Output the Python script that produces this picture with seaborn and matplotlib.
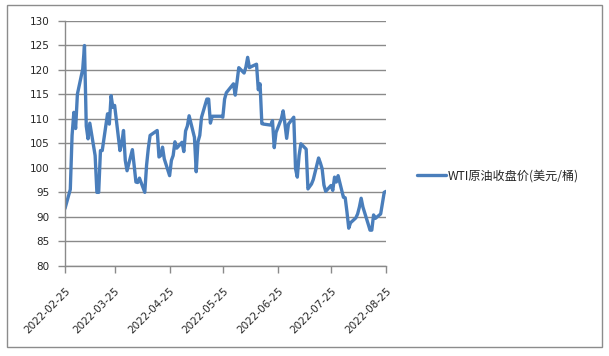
import matplotlib
matplotlib.use("Agg")
import matplotlib.pyplot as plt
import matplotlib.dates as mdates
from matplotlib.patches import Rectangle
import seaborn as sns
import pandas as pd

dates = [
    "2022-02-25", "2022-02-28", "2022-03-01", "2022-03-02", "2022-03-03", "2022-03-04",
    "2022-03-07", "2022-03-08", "2022-03-09", "2022-03-10", "2022-03-11",
    "2022-03-14", "2022-03-15", "2022-03-16", "2022-03-17", "2022-03-18",
    "2022-03-21", "2022-03-22", "2022-03-23", "2022-03-24", "2022-03-25",
    "2022-03-28", "2022-03-29", "2022-03-30", "2022-03-31", "2022-04-01",
    "2022-04-04", "2022-04-05", "2022-04-06", "2022-04-07", "2022-04-08",
    "2022-04-11", "2022-04-12", "2022-04-13", "2022-04-14",
    "2022-04-18", "2022-04-19", "2022-04-20", "2022-04-21", "2022-04-22",
    "2022-04-25", "2022-04-26", "2022-04-27", "2022-04-28", "2022-04-29",
    "2022-05-02", "2022-05-03", "2022-05-04", "2022-05-05", "2022-05-06",
    "2022-05-09", "2022-05-10", "2022-05-11", "2022-05-12", "2022-05-13",
    "2022-05-16", "2022-05-17", "2022-05-18", "2022-05-19", "2022-05-20",
    "2022-05-23", "2022-05-24", "2022-05-25", "2022-05-26", "2022-05-27",
    "2022-05-31", "2022-06-01", "2022-06-02", "2022-06-03",
    "2022-06-06", "2022-06-07", "2022-06-08", "2022-06-09", "2022-06-10",
    "2022-06-13", "2022-06-14", "2022-06-15", "2022-06-16", "2022-06-17",
    "2022-06-21", "2022-06-22", "2022-06-23", "2022-06-24",
    "2022-06-27", "2022-06-28", "2022-06-29", "2022-06-30", "2022-07-01",
    "2022-07-04", "2022-07-05", "2022-07-06", "2022-07-07", "2022-07-08",
    "2022-07-11", "2022-07-12", "2022-07-13", "2022-07-14", "2022-07-15",
    "2022-07-18", "2022-07-19", "2022-07-20", "2022-07-21", "2022-07-22",
    "2022-07-25", "2022-07-26", "2022-07-27", "2022-07-28", "2022-07-29",
    "2022-08-01", "2022-08-02", "2022-08-03", "2022-08-04", "2022-08-05",
    "2022-08-08", "2022-08-09", "2022-08-10", "2022-08-11", "2022-08-12",
    "2022-08-15", "2022-08-16", "2022-08-17", "2022-08-18", "2022-08-19",
    "2022-08-22", "2022-08-23", "2022-08-24", "2022-08-25",
]
wti_close = [
    91.7, 95.6, 106.6, 111.3, 108.0, 115.0,
    120.1, 124.9, 108.5, 105.9, 109.1,
    102.5, 95.0, 95.0, 103.5, 103.5,
    111.0, 108.9, 114.7, 112.3, 112.7,
    103.5, 105.0, 107.6, 101.5, 99.4,
    103.7, 100.5, 97.1, 97.0, 97.9,
    95.0, 100.5, 104.0, 106.6,
    107.6, 102.2, 102.5, 104.2, 101.8,
    98.4, 101.5, 102.5, 105.3, 104.0,
    105.2, 103.3, 107.5, 108.5, 110.6,
    106.2, 99.2, 105.3, 106.6, 110.3,
    114.0, 114.0, 109.1, 110.5, 110.5,
    110.5, 110.5, 110.3, 114.0, 115.3,
    117.1, 114.8, 117.5, 120.4,
    119.3, 120.5, 122.5, 120.4, 120.6,
    121.1, 115.9, 117.1, 109.0, 108.9,
    108.7, 109.6, 104.1, 107.2,
    110.0, 111.6, 109.0, 106.0, 108.9,
    110.3, 99.8, 98.1, 102.5, 104.9,
    103.8, 95.7, 96.2, 96.7, 97.6,
    102.0, 101.0, 99.8, 96.5, 95.2,
    96.4, 95.4, 98.1, 97.1, 98.4,
    94.0, 93.9, 91.0, 87.7, 88.8,
    89.8, 90.6, 92.0, 93.8, 92.0,
    88.5, 87.3, 87.3, 90.4, 89.7,
    90.6, 92.8, 95.0, 95.2,
]
series_name = "WTI原油收盘价(美元/桶)"
x_ticks = ["2022-02-25", "2022-03-25", "2022-04-25", "2022-05-25",
           "2022-06-25", "2022-07-25", "2022-08-25"]
y_ticks = [80, 85, 90, 95, 100, 105, 110, 115, 120, 125, 130]

sns.set_style("white")
plt.rcParams["font.family"] = ["DejaVu Sans"]

df = pd.DataFrame({"date": pd.to_datetime(dates), "value": wti_close, "series": series_name})

fig = plt.figure(figsize=(6.09, 3.56), dpi=100)
ax = fig.add_axes([0.1067, 0.2528, 0.6338 - 0.1067, 0.9424 - 0.2528])

grid_c = "#8a8a8a"
sns.lineplot(data=df, x="date", y="value", hue="series", palette=["#4a7ebb"],
             linewidth=2.4, ax=ax, legend=True)

ax.set_xlim(pd.Timestamp(x_ticks[0]), pd.Timestamp(x_ticks[-1]))
ax.set_ylim(y_ticks[0], y_ticks[-1])
ax.set_yticks(y_ticks)
ax.set_xticks(pd.to_datetime(x_ticks))
ax.xaxis.set_major_formatter(mdates.DateFormatter("%Y-%m-%d"))
ax.set_xlabel("")
ax.set_ylabel("")

ax.yaxis.grid(True, color=grid_c, linewidth=1.0)
ax.xaxis.grid(False)
ax.set_axisbelow(True)
for s in ["top", "right"]:
    ax.spines[s].set_visible(False)
for s in ["left", "bottom"]:
    ax.spines[s].set_color(grid_c)
    ax.spines[s].set_linewidth(1.0)

ax.tick_params(axis="y", which="major", direction="out", length=5, width=1,
               color=grid_c, labelsize=7.5, pad=6, left=True)
ax.tick_params(axis="x", which="major", direction="out", length=5, width=1,
               color=grid_c, labelsize=7.5, pad=9, bottom=True)
for lab in ax.get_xticklabels():
    lab.set_rotation(45)
    lab.set_ha("right")
    lab.set_rotation_mode("anchor")

handles, labels = ax.get_legend_handles_labels()
ax.legend_.remove()
leg = fig.legend(handles, labels, loc="center left", bbox_to_anchor=(0.684, 0.506),
                 frameon=False, borderpad=0, borderaxespad=0, handlelength=2.4,
                 handletextpad=0.15,
                 prop={"family": ["Noto Sans CJK SC", "DejaVu Sans"], "size": 8.7})

fig.patches.append(Rectangle((7 / 609, 1 - 347 / 356), (602 - 7) / 609, (347 - 5) / 356,
                             transform=fig.transFigure, fill=False,
                             edgecolor="#8c8c8c", linewidth=1.0))

fig.savefig("out.png", dpi=100)
